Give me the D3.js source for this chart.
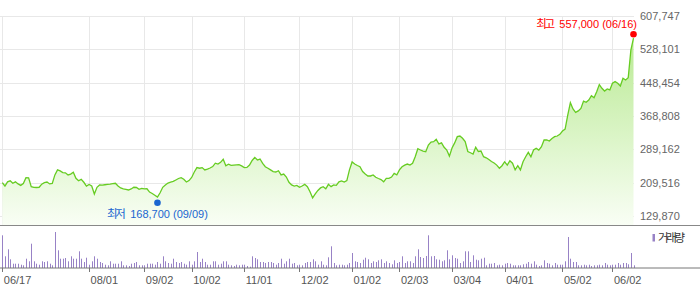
<!DOCTYPE html>
<html>
<head>
<meta charset="utf-8">
<script src="https://d3js.org/d3.v7.min.js"></script>
<style>
body {margin:0; background:white;}
text {font-family: "Liberation Sans", Arial, "Noto Sans CJK KR", sans-serif; font-size: 11px;}
.kr {font-family: "Noto Sans CJK KR", sans-serif; font-size: 11.5px; letter-spacing: -2.3px;}
</style>
</head>
<body>
<svg width="700" height="289"></svg>

<script>
// daily closes, 2024-06-17 .. 2025-06-16
var closes = [
  209500, 201500, 211500, 214000, 208000, 211500, 206500, 203000, 207500, 221500,
  221000, 200000, 198500, 198000, 198500, 206000, 209500, 211000, 206500, 207500,
  228000, 240000, 237500, 233500, 233000, 228000, 230000, 234500, 220000, 214000,
  217500, 210500, 201500, 205000, 201500, 182500, 198500, 204000, 203500, 204500,
  205500, 206000, 207000, 208000, 201500, 197000, 194500, 193500, 192000, 194500,
  198500, 198000, 193500, 196000, 194500, 195000, 187000, 183500, 179500, 175000,
  185500, 198500, 204000, 208500, 211000, 212500, 216000, 219500, 221500, 217500,
  211000, 214500, 222000, 235000, 245500, 244000, 245500, 240000, 242000, 244500,
  248000, 256000, 254000, 258000, 265500, 250000, 253500, 251000, 251500, 252000,
  252500, 249500, 245500, 246000, 251500, 262500, 270000, 263500, 266000, 255500,
  247500, 244000, 240000, 236000, 235000, 238000, 228000, 230000, 223000, 210500,
  204000, 201500, 203000, 198500, 201500, 205500, 200000, 188000, 173000, 182500,
  191000, 197000, 200000, 195000, 205500, 200000, 204000, 203000, 211500, 213500,
  211000, 214500, 240000, 259000, 254000, 250500, 247500, 236000, 230000, 225500,
  225500, 228000, 222500, 219500, 217000, 211500, 220000, 220000, 223000, 231500,
  228000, 240000, 247500, 251500, 254000, 251500, 256000, 271500, 290500, 287500,
  285000, 283500, 299500, 306500, 307500, 313000, 302000, 304500, 294000, 287500,
  273000, 292500, 304500, 319500, 321000, 315500, 307500, 284000, 281000, 278000,
  294000, 284000, 285000, 271500, 269000, 265000, 260000, 256500, 251500, 244000,
  250000, 259500, 251500, 262000, 256000, 240000, 250000, 240000, 259500, 271500,
  282000, 271500, 287500, 291500, 287500, 295500, 311500, 311500, 309000, 315000,
  319500, 321000, 325000, 333000, 337500, 371000, 400500, 385500, 377500, 381000,
  387000, 404500, 401500, 407000, 417500, 412500, 427000, 444000, 435000, 428500,
  433500, 431000, 447000, 451000, 447000, 440500, 459000, 455000, 460500, 526500,
  555000
];

var volumes = [
  981000, 351000, 561000, 261000, 129000, 129000, 129000, 99000, 81000, 279000,
  201000, 729000, 201000, 129000, 99000, 201000, 180000, 201000, 129000, 81000,
  1080000, 531000, 279000, 279000, 300000, 201000, 351000, 279000, 279000, 501000,
  279000, 180000, 309000, 99000, 201000, 351000, 279000, 180000, 150000, 99000,
  81000, 201000, 129000, 129000, 129000, 201000, 81000, 81000, 60000, 129000,
  150000, 180000, 81000, 81000, 81000, 129000, 129000, 129000, 99000, 180000,
  129000, 351000, 201000, 150000, 129000, 279000, 180000, 150000, 180000, 129000,
  99000, 201000, 99000, 201000, 480000, 180000, 279000, 180000, 99000, 99000,
  201000, 201000, 99000, 129000, 201000, 201000, 99000, 81000, 60000, 99000,
  81000, 99000, 99000, 60000, 39000, 351000, 300000, 261000, 180000, 180000,
  150000, 180000, 180000, 150000, 99000, 150000, 279000, 129000, 201000, 279000,
  129000, 150000, 81000, 99000, 81000, 150000, 180000, 180000, 261000, 201000,
  99000, 201000, 99000, 81000, 321000, 651000, 150000, 81000, 99000, 99000,
  81000, 99000, 150000,
  450000, 201000, 180000, 150000, 249000, 309000, 261000, 150000, 201000, 180000,
  231000, 261000, 150000, 201000, 150000, 111000, 231000, 150000, 180000, 351000,
  150000, 201000, 201000, 150000, 351000, 561000, 330000, 300000, 360000, 981000,
  351000, 360000, 261000, 249000, 201000, 231000, 531000, 261000, 381000, 300000,
  279000, 150000, 201000, 501000, 501000, 180000, 381000, 249000, 231000, 279000,
  309000, 81000, 129000, 129000, 150000, 81000, 99000, 81000, 129000, 150000,
  129000, 81000, 81000, 81000, 81000, 111000, 129000, 180000, 129000, 201000,
  99000, 60000, 81000, 231000, 150000, 129000, 81000, 150000, 99000, 99000,
  99000, 201000, 930000, 279000, 180000, 180000, 81000, 81000, 99000, 81000,
  99000, 60000, 81000, 81000, 99000, 81000, 150000, 99000, 81000, 99000,
  99000, 150000, 99000, 150000, 150000, 111000, 450000, 81000
];

var tickIdx = [0, 33, 54, 72, 92, 113, 133, 151, 171, 191, 213, 232];
var tickLabels = ["06/17", "08/01", "09/02", "10/02", "11/01", "12/02", "01/02", "02/03", "03/04", "04/01", "05/02", "06/02"];
var yTicks = [129870, 209516, 289162, 368808, 448454, 528101, 607747];

var markIdx = [240, 59];
var markValues = [557000, 168700];
var markNames = ["최고", "최저"];
var markDates = ["06/16", "09/09"];
var markColors = ["#ff0000", "#1a66d0"];

var svg = d3.select("svg");
var plotLeft = 0, plotRight = 634, plotTop = 16, plotBottom = 225;

var x = d3.scaleLinear().domain([0, closes.length - 1]).range([2.3, 633.5]);
var y = d3.scaleLinear().domain([yTicks[0], yTicks[yTicks.length - 1]]).range([216, 16]);
var vy = d3.scaleLinear().domain([0, d3.max(volumes)]).range([268, 232]);

var grad = svg.append("defs").append("linearGradient")
  .attr("id", "fillGrad")
  .attr("gradientUnits", "userSpaceOnUse")
  .attr("x1", 0).attr("x2", 0).attr("y1", 20).attr("y2", plotBottom);
grad.append("stop").attr("offset", "0%").attr("stop-color", "#b3e88a");
grad.append("stop").attr("offset", "100%").attr("stop-color", "#f9fef5");

// grid
svg.append("g").selectAll("line")
  .data(yTicks)
  .enter().append("line")
  .attr("x1", plotLeft).attr("x2", plotRight)
  .attr("y1", function(d) { return Math.round(y(d)) + 0.5; })
  .attr("y2", function(d) { return Math.round(y(d)) + 0.5; })
  .attr("stroke", "#e8e8e8");

svg.append("g").selectAll("line")
  .data(tickIdx)
  .enter().append("line")
  .attr("x1", function(d) { return Math.round(x(d)) + 0.5; })
  .attr("x2", function(d) { return Math.round(x(d)) + 0.5; })
  .attr("y1", plotTop).attr("y2", plotBottom)
  .attr("stroke", "#e8e8e8");

// price area + line
var area = d3.area()
  .x(function(d, i) { return x(i); })
  .y0(plotBottom)
  .y1(function(d) { return y(d); });
var line = d3.line()
  .x(function(d, i) { return x(i); })
  .y(function(d) { return y(d); });

svg.append("path").datum(closes)
  .attr("d", area)
  .attr("fill", "url(#fillGrad)");
svg.append("path").datum(closes)
  .attr("d", line)
  .attr("fill", "none")
  .attr("stroke", "#66cc22")
  .attr("stroke-width", 1.3);

// y labels on the right
svg.append("g").selectAll("text")
  .data(yTicks)
  .enter().append("text")
  .attr("x", 640)
  .attr("y", function(d) { return y(d) + 4; })
  .attr("fill", "#666")
  .text(function(d) { return d3.format(",")(d); });

// separator and volume baseline
svg.append("line").attr("x1", 0).attr("x2", 700).attr("y1", 225.5).attr("y2", 225.5)
  .attr("stroke", "#888");
svg.append("g").selectAll("rect")
  .data(volumes)
  .enter().append("rect")
  .attr("x", function(d, i) { return Math.round(x(i)); })
  .attr("width", 1)
  .attr("y", function(d) { return vy(d); })
  .attr("height", function(d) { return 268 - vy(d); })
  .attr("fill", "#9882c6");
svg.append("line").attr("x1", 0).attr("x2", 700).attr("y1", 268).attr("y2", 268)
  .attr("stroke", "#777");

// x ticks + labels
svg.append("g").selectAll("line")
  .data(tickIdx)
  .enter().append("line")
  .attr("x1", function(d) { return Math.round(x(d)) + 0.5; })
  .attr("x2", function(d) { return Math.round(x(d)) + 0.5; })
  .attr("y1", 268).attr("y2", 272)
  .attr("stroke", "#777");
svg.append("g").selectAll("text")
  .data(tickIdx)
  .enter().append("text")
  .attr("x", function(d) { return x(d) + 1.5; })
  .attr("y", 284)
  .attr("fill", "#555")
  .text(function(d, i) { return tickLabels[i]; });

// legend
svg.append("rect").attr("x", 652.5).attr("y", 234).attr("width", 2.5).attr("height", 7.5)
  .attr("fill", "#9882c6");
svg.append("text").attr("x", 658).attr("y", 242).attr("fill", "#333")
  .append("tspan").attr("class", "kr").text("거래량");

// high / low markers
markIdx.forEach(function(idx, k) {
  var isHigh = k == 0;
  var cx = x(idx);
  var cy = y(markValues[k]) + (isHigh ? -3 : 3);
  svg.append("circle").attr("cx", cx).attr("cy", cy).attr("r", 3.3)
    .attr("fill", markColors[k]);
  var t = svg.append("text")
    .attr("x", isHigh ? 637 : cx)
    .attr("y", isHigh ? cy - 6 : cy + 15)
    .attr("text-anchor", isHigh ? "end" : "middle")
    .attr("fill", markColors[k]);
  t.append("tspan").attr("class", "kr").text(markNames[k]);
  t.append("tspan").attr("dx", 6.5).text(d3.format(",")(markValues[k]) + " (" + markDates[k] + ")");
});
</script>
</body>
</html>
